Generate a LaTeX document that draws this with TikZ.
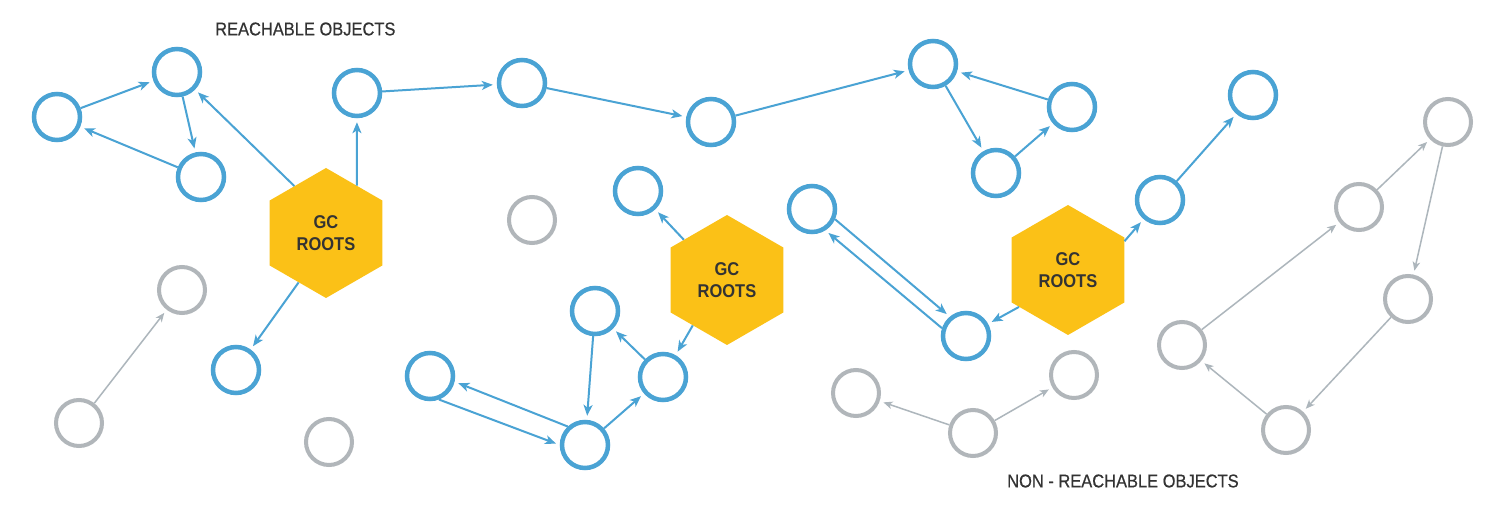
\documentclass[tikz,border=0pt]{standalone}
\usepackage{fontspec}
\setmainfont{Liberation Sans}
\newfontfamily\medsans[FakeBold=0.6]{Liberation Sans}
\usepackage{graphicx}
\usetikzlibrary{arrows.meta,shapes.geometric}
\definecolor{objblue}{HTML}{4AA3D4}
\definecolor{objgray}{HTML}{B1B6BA}
\definecolor{edgegray}{HTML}{ADB6BC}
\definecolor{rootyellow}{HTML}{FBC117}
\definecolor{txtdark}{HTML}{333333}
\newcommand{\narrowtxt}[1]{\scalebox{0.89}[1]{#1}}
\tikzset{
  reach/.style={circle, draw=objblue, line width=4.5pt, minimum size=46pt, inner sep=0pt, fill=white},
  unreach/.style={circle, draw=objgray, line width=4pt, minimum size=46pt, inner sep=0pt, fill=white},
  gcroot/.style={regular polygon, regular polygon sides=6, shape border rotate=30, minimum size=130pt,
    fill=rootyellow, inner sep=0pt, text=txtdark, font=\fontsize{18.5}{22}\selectfont\bfseries, align=center},
  redge/.style={draw=objblue, line width=2pt, -{Stealth[length=11pt,width=9pt,inset=3pt]}, shorten >=4pt},
  gedge/.style={draw=edgegray, line width=1.5pt, -{Stealth[length=9pt,width=7.5pt,inset=2.5pt]}, shorten >=4pt},
  caption/.style={text=txtdark, font=\medsans\fontsize{18.5}{22}\selectfont, inner sep=0pt, anchor=west}
}
\begin{document}
\begin{tikzpicture}[x=1pt,y=-1pt]
\useasboundingbox[fill=white] (0,0) rectangle (1500,518);
% labels
\node[caption] (lab1) at (215,29) {\narrowtxt{REACHABLE OBJECTS}};
\node[caption] (lab2) at (1007,481) {\narrowtxt{NON - REACHABLE OBJECTS}};
% GC roots
\node[gcroot] (H1) at (326,233) {\narrowtxt{GC}\\\narrowtxt{ROOTS}};
\node[gcroot] (H2) at (727,280) {\narrowtxt{GC}\\\narrowtxt{ROOTS}};
\node[gcroot] (H3) at (1068,270) {\narrowtxt{GC}\\\narrowtxt{ROOTS}};
% reachable objects
\node[reach] (B1) at (57,117) {};
\node[reach] (B2) at (177,72) {};
\node[reach] (B3) at (201,177) {};
\node[reach] (B4) at (357,93) {};
\node[reach] (B5) at (522,83) {};
\node[reach] (B6) at (711,122) {};
\node[reach] (B7) at (933,64) {};
\node[reach] (B8) at (1072,107) {};
\node[reach] (B9) at (996,173) {};
\node[reach] (B10) at (1253,95) {};
\node[reach] (B11) at (638,191) {};
\node[reach] (B12) at (812,209) {};
\node[reach] (B13) at (1160,200) {};
\node[reach] (B14) at (966,336) {};
\node[reach] (B15) at (236,370) {};
\node[reach] (B16) at (595,311) {};
\node[reach] (B17) at (430,376) {};
\node[reach] (B18) at (663,377) {};
\node[reach] (B19) at (585,445) {};
% non-reachable objects
\node[unreach] (G1) at (532,220) {};
\node[unreach] (G2) at (182,290) {};
\node[unreach] (G3) at (79,423) {};
\node[unreach] (G4) at (329,442) {};
\node[unreach] (G5) at (856,393) {};
\node[unreach] (G6) at (1074,375) {};
\node[unreach] (G7) at (973,433) {};
\node[unreach] (G8) at (1448,122) {};
\node[unreach] (G9) at (1359,207) {};
\node[unreach] (G10) at (1408,299) {};
\node[unreach] (G11) at (1182,345) {};
\node[unreach] (G12) at (1286,430) {};
% reachable references
\draw[redge] (B1) -- (B2);
\draw[redge] (B2) -- (B3);
\draw[redge] (B3) -- (B1);
\draw[redge] (H1.124) -- (B2);
\draw[redge] (H1.57) -- (B4);
\draw[redge] (H1.241) -- (B15);
\draw[redge] (B4) -- (B5);
\draw[redge] (B5) -- (B6);
\draw[redge] (B6) -- (B7);
\draw[redge] (B8) -- (B7);
\draw[redge] (B7) -- (B9);
\draw[redge] (B9) -- (B8);
\draw[redge] (H2.137) -- (B11);
\draw[redge] (H2.233) -- (B18);
\draw[redge] (B18) -- (B16);
\draw[redge] (B16) -- (B19);
\draw[redge] (B19) -- (B18);
\draw[redge] (B17.-69) -- (B19.180);
\draw[redge] (B19.133) -- (B17.-13);
\draw[redge] (B12.-24) -- (B14.130);
\draw[redge] (B14.162) -- (B12.-58);
\draw[redge] (H3.217) -- (B14);
\draw[redge] (H3.27) -- (B13);
\draw[redge] (B13) -- (B10);
% non-reachable references
\draw[gedge] (G3) -- (G2);
\draw[gedge] (G7) -- (G5);
\draw[gedge] (G7) -- (G6);
\draw[gedge] (G11) -- (G9);
\draw[gedge] (G9) -- (G8);
\draw[gedge] (G8) -- (G10);
\draw[gedge] (G10) -- (G12);
\draw[gedge] (G12) -- (G11);
\end{tikzpicture}
\end{document}
